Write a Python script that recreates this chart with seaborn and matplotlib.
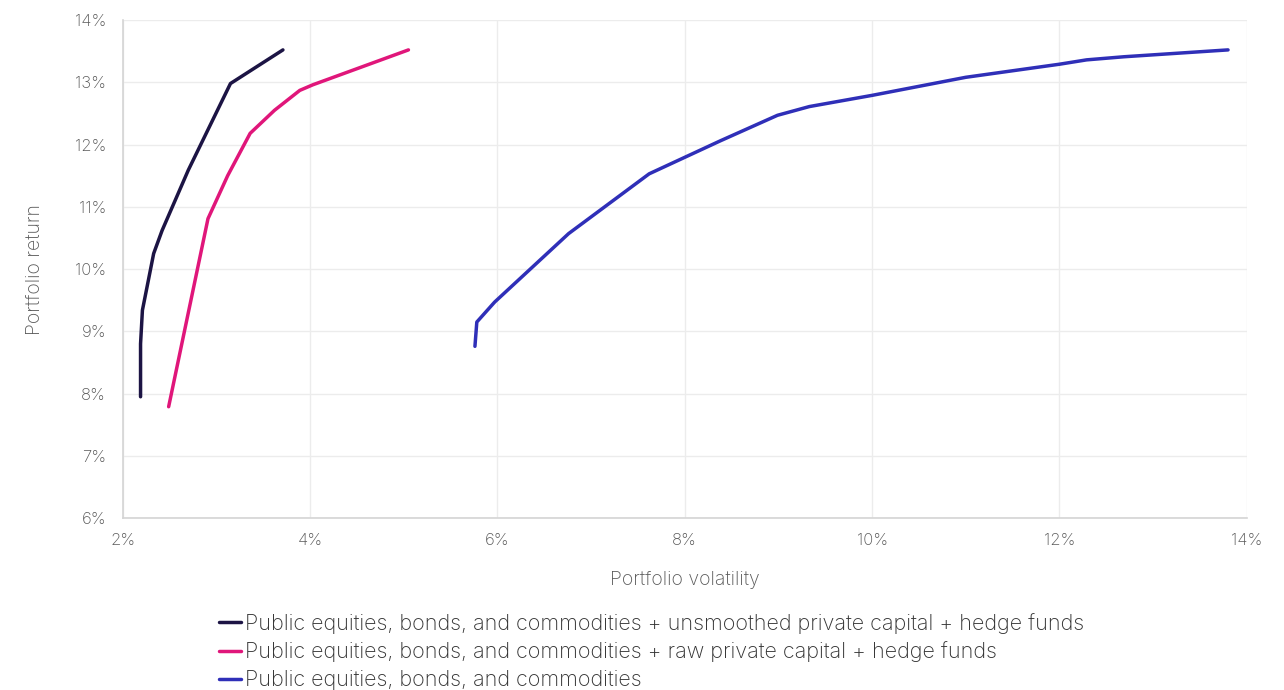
import numpy as np
import pandas as pd
import seaborn as sns
import matplotlib.pyplot as plt
from matplotlib.ticker import FuncFormatter

# volatility (%) and return (%)
unsmoothed_vol = [2.19, 2.19, 2.21, 2.28, 2.33, 2.42, 2.70, 3.15, 3.71]
unsmoothed_ret = [7.95, 8.80, 9.34, 9.87, 10.25, 10.62, 11.59, 12.98, 13.52]

raw_vol = [2.49, 2.70, 2.91, 3.12, 3.36, 3.62, 3.89, 4.03, 5.05]
raw_ret = [7.79, 9.30, 10.81, 11.50, 12.18, 12.55, 12.87, 12.96, 13.52]

public_vol = [5.76, 5.78, 5.97, 6.76, 7.62, 8.38, 8.99, 9.33, 10.0, 11.0, 12.0, 12.29, 12.69, 13.80]
public_ret = [8.76, 9.15, 9.47, 10.57, 11.53, 12.06, 12.47, 12.61, 12.79, 13.08, 13.29, 13.36, 13.41, 13.52]

series_names = [
    "Public equities, bonds, and commodities + unsmoothed private capital + hedge funds",
    "Public equities, bonds, and commodities + raw private capital + hedge funds",
    "Public equities, bonds, and commodities",
]
series_colors = ["#1c1444", "#e0167a", "#2f2fb8"]

frames = []
for name, v, r in zip(series_names,
                      [unsmoothed_vol, raw_vol, public_vol],
                      [unsmoothed_ret, raw_ret, public_ret]):
    frames.append(pd.DataFrame({"vol": v, "ret": r, "series": name}))
df = pd.concat(frames, ignore_index=True)

sns.set_theme(style="white")
plt.rcParams['font.family'] = ['Inter', 'DejaVu Sans']
plt.rcParams['font.weight'] = 'light'

text_col = "#595959"
fig = plt.figure(figsize=(12.84, 6.9), dpi=100)
ax = fig.add_axes([0.0956, 0.249, 0.8754, 0.722])

sns.lineplot(data=df, x="vol", y="ret", hue="series", hue_order=series_names,
             palette=series_colors, sort=False, estimator=None, linewidth=2.5,
             ax=ax, legend=True)

ax.set_xlim(2, 14)
ax.set_ylim(6, 14)
ax.set_xticks(np.arange(2, 15, 2))
ax.set_yticks(np.arange(6, 15, 1))
pct = FuncFormatter(lambda v, p: f"{v:.0f}%")
ax.xaxis.set_major_formatter(pct)
ax.yaxis.set_major_formatter(pct)
ax.grid(True, color="#ececec", linewidth=1)
for s in ["top", "right"]:
    ax.spines[s].set_visible(False)
for s in ["left", "bottom"]:
    ax.spines[s].set_color("#d4d4d4")
    ax.spines[s].set_linewidth(1.2)
ax.tick_params(axis="both", length=0, labelsize=12, labelcolor=text_col)
ax.tick_params(axis="x", pad=11)
ax.tick_params(axis="y", pad=12)

ax.set_xlabel("Portfolio volatility", fontsize=14, color=text_col, labelpad=16,
              fontweight="light")
ax.set_ylabel("Portfolio return", fontsize=14, color=text_col, labelpad=22,
              fontweight="light")

leg = ax.legend(loc="upper left", bbox_to_anchor=(0.0857, -0.19), frameon=False,
                fontsize=15.5, handlelength=1.0, handletextpad=0.2,
                labelspacing=0.36, borderaxespad=0, borderpad=0)
for t in leg.get_texts():
    t.set_color("#333333")
for h in leg.get_lines():
    h.set_linewidth(2.5)

fig.savefig("out.png", dpi=100)
